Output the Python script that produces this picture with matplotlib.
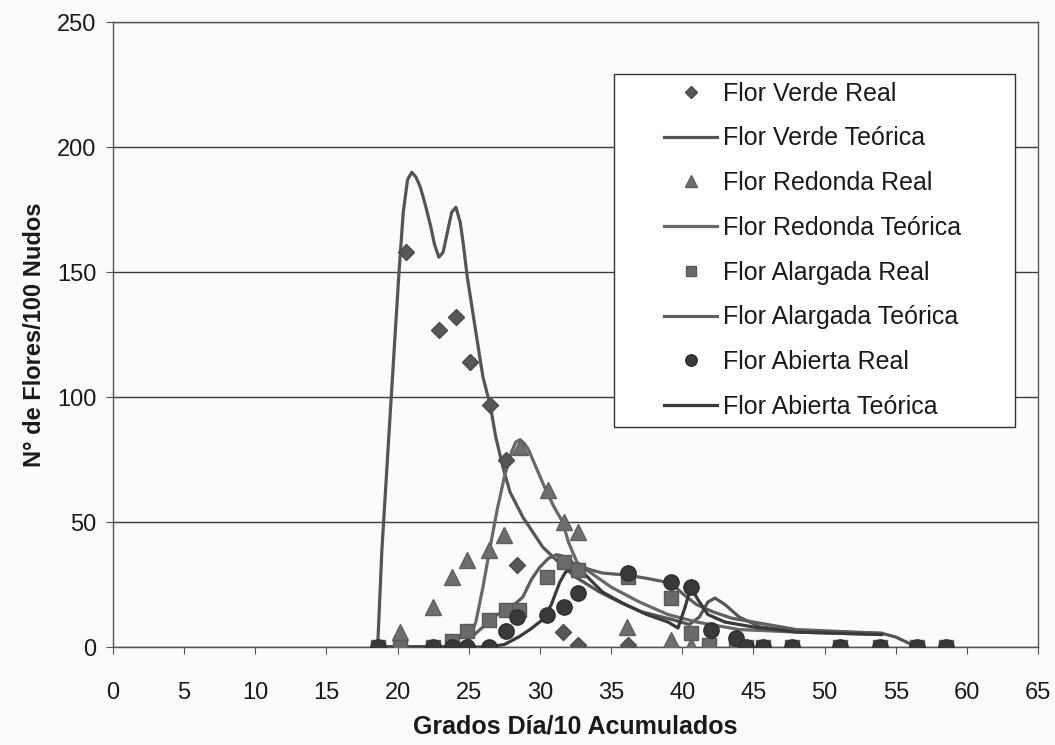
import matplotlib.pyplot as plt
from matplotlib.patches import Rectangle

plt.rcParams['font.family'] = ['Liberation Sans', 'DejaVu Sans']

# Datos observados (Real)
verde_x = [20.6, 22.9, 24.1, 25.1, 26.5, 27.6, 28.4, 31.6, 32.7, 36.2, 39.2]
verde_y = [158, 127, 132, 114, 97, 75, 33, 6, 1, 1, 0]

redonda_x = [20.2, 22.5, 23.8, 24.9, 26.4, 27.5, 28.6, 30.6, 31.7, 32.7, 36.1, 39.2, 40.6]
redonda_y = [6, 16, 28, 35, 39, 45, 80, 63, 50, 46, 8, 3, 0.5]

alargada_x = [18.6, 20.2, 22.5, 23.8, 24.9, 26.4, 27.6, 28.5, 30.5, 31.7, 32.7, 36.2, 39.2,
              40.6, 41.9, 43.8, 44.5, 45.7, 47.7, 51.1, 53.9, 56.5, 58.5]
alargada_y = [0, 0, 0, 2.5, 6.5, 11, 15, 15, 28, 34, 31, 28, 19.5,
              5.5, 1, 0, 0, 0, 0, 0, 0, 0, 0]

abierta_x = [18.6, 22.5, 23.8, 24.9, 26.4, 27.6, 28.4, 30.5, 31.7, 32.7, 36.2, 39.2, 40.6,
             42.0, 43.8, 44.5, 45.7, 47.7, 51.1, 53.9, 56.5, 58.5]
abierta_y = [0, 0, 0, 0, 0, 6.4, 12, 13, 16, 21.5, 29.6, 26, 24,
             6.8, 3.5, 0, 0, 0, 0, 0, 0, 0]

# Curvas ajustadas (Teórica)
verde_t_x = [18.6, 18.9, 19.5, 20.1, 20.4, 20.7, 21.0, 21.3, 21.6, 21.9, 22.3, 22.6, 22.9,
             23.2, 23.5, 23.8, 24.1, 24.4, 24.6, 24.9, 25.5, 26.0, 26.5, 26.9, 27.4, 27.9,
             28.8, 30.2, 31.3, 32.5, 34.2, 35.6, 37.2, 39.3, 40.5, 41.2, 41.8, 42.3, 43.0,
             44.0, 45.5, 48.0, 54.0, 55.0, 56.5]
verde_t_y = [0, 39, 95, 150, 174, 187, 190, 188, 184, 178, 169, 161, 156,
             158, 166, 174, 176, 170, 162, 148, 126, 108, 97, 84, 72, 62,
             52, 40, 34, 28, 22, 18, 14, 11, 9, 12, 18, 19.6, 17,
             12, 8, 6.5, 5.5, 4, 0]

redonda_t_x = [18.6, 24.4, 25.0, 25.5, 26.0, 26.5, 27.0, 27.5, 28.0, 28.3, 28.6, 28.9,
               29.2, 29.8, 30.4, 31.0, 31.6, 32.0, 32.6, 33.5, 35.0, 37.0, 39.0, 41.0,
               44.0, 48.0, 54.0]
redonda_t_y = [0, 0, 3, 10, 24, 40, 55, 68, 78, 82, 83, 81.5,
               79, 71, 63, 56, 50, 42, 34, 30, 24, 18, 13, 10,
               7, 6, 5]

alargada_t_x = [18.6, 24.0, 25.0, 26.0, 27.0, 28.0, 28.8, 29.4, 30.0, 30.6, 31.2, 31.8,
                32.5, 33.5, 34.4, 36.1, 37.5, 39.2, 40.1, 41.0, 42.2, 43.5, 45.0, 48.0, 54.0]
alargada_t_y = [0, 0, 3, 8, 13, 16, 20, 27, 32, 35.5, 37, 36,
                33, 31, 29.6, 28.8, 27.5, 25.6, 21, 17, 14, 11.5, 10, 7, 5.5]

abierta_t_x = [18.6, 26.3, 27.5, 28.5, 29.3, 30.2, 30.8, 31.4, 31.8, 32.4, 33.0, 34.4,
               36.0, 37.5, 39.0, 39.7, 40.2, 40.6, 41.1, 41.8, 43.0, 45.0, 48.0, 54.0]
abierta_t_y = [0, 0, 1, 4, 7, 11, 17, 26, 30, 32, 30, 22,
               17, 13, 10, 7.6, 16, 24, 19, 13, 10, 8, 6, 5]

x_ticks = list(range(0, 70, 5))
y_ticks = list(range(0, 300, 50))

fig = plt.figure(figsize=(10.55, 7.45), dpi=100)
fig.patch.set_facecolor('#fbfbfa')
ax = fig.add_axes([0.107, 0.1315, 0.877, 0.8385])
ax.set_facecolor('#fbfbfa')

ax.set_xlim(0, 65)
ax.set_ylim(0, 250)
ax.set_xticks(x_ticks)
ax.set_yticks(y_ticks)
ax.yaxis.grid(True, color='#3c3c3c', linewidth=1.0)
ax.set_axisbelow(True)
for side in ['left', 'bottom', 'right', 'top']:
    ax.spines[side].set_color('#555555')
    ax.spines[side].set_linewidth(1.0)
ax.tick_params(axis='both', direction='out', length=5, color='#555555',
               labelsize=17, labelcolor='#1a1a1a')
ax.tick_params(axis='x', pad=20)
ax.tick_params(axis='y', pad=7)

lw = 2.3
h1, = ax.plot(verde_x, verde_y, 'D', ms=8, color='#575757', mec='#4a4a4a', linestyle='none',
              label='Flor Verde Real', zorder=4)
h2, = ax.plot(verde_t_x, verde_t_y, '-', color='#555555', lw=lw,
              label='Flor Verde Teórica', zorder=3)
h3, = ax.plot(redonda_x, redonda_y, '^', ms=11, color='#6e6e6e', mec='#5e5e5e', linestyle='none',
              label='Flor Redonda Real', zorder=4)
h4, = ax.plot(redonda_t_x, redonda_t_y, '-', color='#686868', lw=lw,
              label='Flor Redonda Teórica', zorder=3)
h5, = ax.plot(alargada_x, alargada_y, 's', ms=10, color='#6a6a6a', mec='#585858', linestyle='none',
              label='Flor Alargada Real', zorder=4)
h6, = ax.plot(alargada_t_x, alargada_t_y, '-', color='#5e5e5e', lw=lw,
              label='Flor Alargada Teórica', zorder=3)
h7, = ax.plot(abierta_x, abierta_y, 'o', ms=11, color='#393939', mec='#2e2e2e', linestyle='none',
              label='Flor Abierta Real', zorder=4)
h8, = ax.plot(abierta_t_x, abierta_t_y, '-', color='#3a3a3a', lw=lw,
              label='Flor Abierta Teórica', zorder=3)

ax.set_xlabel('Grados Día/10 Acumulados', fontsize=18, fontweight='bold',
              color='#1a1a1a', labelpad=8)
ax.set_ylabel('N° de Flores/100 Nudos', fontsize=17, fontweight='bold',
              color='#1a1a1a', labelpad=8)

# Leyenda con marco rectangular propio
ax.add_patch(Rectangle((0.542, 0.352), 0.433, 0.566, transform=ax.transAxes,
                       facecolor='white', edgecolor='#333333', linewidth=1.0, zorder=5))
leg = ax.legend(handles=[h1, h2, h3, h4, h5, h6, h7, h8], loc='upper left',
                bbox_to_anchor=(0.596, 0.905), frameon=False, fontsize=18,
                handlelength=2.1, handletextpad=0.25, labelspacing=0.83,
                markerscale=0.75, borderpad=0.0, borderaxespad=0.0)
leg.set_zorder(6)
for t in leg.get_texts():
    t.set_color('#1a1a1a')

fig.savefig('out.png', dpi=100, facecolor=fig.get_facecolor())
